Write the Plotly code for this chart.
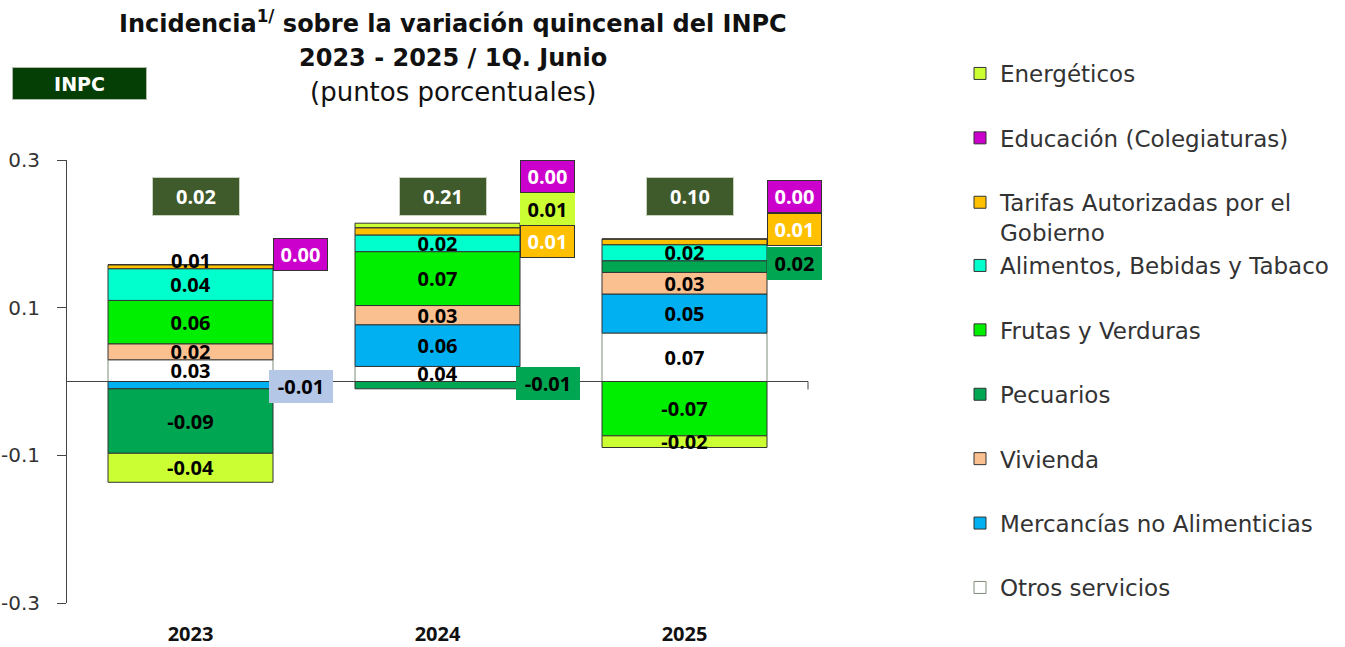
import plotly.graph_objects as go

# ---------------- data ----------------
years = ["2023", "2024", "2025"]
totals = ["0.02", "0.21", "0.10"]

series_names = [
    "Otros servicios",
    "Mercancías no Alimenticias",
    "Vivienda",
    "Pecuarios",
    "Frutas y Verduras",
    "Alimentos, Bebidas y Tabaco",
    "Tarifas Autorizadas por el<br>Gobierno",
    "Educación (Colegiaturas)",
    "Energéticos",
]

otros = [0.0294, 0.0204, 0.0656]
mercancias = [-0.0099, 0.0565, 0.0529]
vivienda = [0.0217, 0.0260, 0.0293]
pecuarios = [-0.0873, -0.0099, 0.0158]
frutas = [0.0587, 0.0730, -0.0736]
alimentos = [0.0430, 0.0226, 0.0217]
tarifas = [0.0054, 0.0099, 0.0077]
educacion = [0.0, 0.0, 0.0]
energeticos = [-0.0393, 0.0060, -0.0158]

# labels as printed on the chart
otros_lbl = ["0.03", "0.04", "0.07"]
mercancias_lbl = ["-0.01", "0.06", "0.05"]
vivienda_lbl = ["0.02", "0.03", "0.03"]
pecuarios_lbl = ["-0.09", "-0.01", "0.02"]
frutas_lbl = ["0.06", "0.07", "-0.07"]
alimentos_lbl = ["0.04", "0.02", "0.02"]
tarifas_lbl = ["0.01", "0.01", "0.01"]
educacion_lbl = ["0.00", "0.00", "0.00"]
energeticos_lbl = ["-0.04", "0.01", "-0.02"]

# ---------------- style ----------------
W, H = 1345, 647
ML, MT = 67, 160
PLOT_R, PLOT_B = 808, 603
MR = W - PLOT_R
MB = H - PLOT_B
PW = W - ML - MR
PH = H - MT - MB

colors = ["#FFFFFF", "#00B0F0", "#FAC090", "#00A651", "#00EE00",
          "#00FFCC", "#FFC000", "#CC00CC", "#CCFF33"]
line_colors = ["#7F8C78"] + ["#333333"] * 8
values = [otros, mercancias, vivienda, pecuarios, frutas, alimentos,
          tarifas, educacion, energeticos]
labels = [otros_lbl, mercancias_lbl, vivienda_lbl, pecuarios_lbl, frutas_lbl,
          alimentos_lbl, tarifas_lbl, educacion_lbl, energeticos_lbl]

# labels in boxes beside the bar: (series idx, year idx, yshift px, bg, font colour, border, at_zero)
side = [
    (7, 0, 10, "#CC00CC", "white", "#333333", False),
    (1, 0, -5, "#B4C7E7", "black", "#B4C7E7", True),
    (7, 1, 47, "#CC00CC", "white", "#333333", False),
    (8, 1, 14, "#CCFF33", "black", "#CCFF33", False),
    (6, 1, -18.5, "#FFC000", "white", "#333333", False),
    (3, 1, -2, "#00A651", "black", "#00A651", True),
    (7, 2, 42.5, "#CC00CC", "white", "#333333", False),
    (6, 2, 9.5, "#FFC000", "white", "#333333", False),
    (3, 2, -24, "#00A651", "black", "#00A651", False),
]
# labels written just over the top of the stack (series idx, year idx, yshift px)
above = [(6, 0, 4)]
skip_keys = {(s, y) for s, y, *_ in side} | {(s, y) for s, y, _ in above}

BOLD = "Open Sans"
REG = "DejaVu Sans"


def px_x(p):
    return (p - ML) / PW


def px_y(p):
    return (PLOT_B - p) / PH


fig = go.Figure()
for i, (name, vals, lbls) in enumerate(zip(series_names, values, labels)):
    txt = ["" if (i, j) in skip_keys else lbls[j] for j in range(len(years))]
    legend = "legend" if i >= 6 else "legend2"
    fig.add_trace(go.Bar(
        x=years, y=vals, name=name, text=txt,
        textposition="inside", insidetextanchor="middle", constraintext="none",
        textfont=dict(family=BOLD, size=20, color="black", weight="bold"),
        marker=dict(color=colors[i], line=dict(color=line_colors[i], width=1)),
        width=0.668, legend=legend, legendgroup=name, legendrank=100 - i,
        hoverinfo="skip",
    ))

annotations = []
# totals
for j, yr in enumerate(years):
    annotations.append(dict(
        x=j, y=0.25, xref="x", yref="y", text=totals[j], showarrow=False,
        xshift=5, font=dict(family=BOLD, size=20, color="white", weight="bold"),
        bgcolor="#3F5A2B", bordercolor="#C9D2C0", borderwidth=1,
        width=80, height=31, borderpad=3,
    ))

pos_tops = [sum(v[j] for v in values if v[j] > 0) for j in range(len(years))]

# side boxes
for s, j, ysh, bg, fc, bc, at_zero in side:
    wide = labels[s][j].startswith("-")
    annotations.append(dict(
        x=j, y=0 if at_zero else pos_tops[j], xref="x", yref="y",
        text=labels[s][j], showarrow=False, xanchor="left", yanchor="middle",
        xshift=78 if wide else 82, yshift=ysh,
        font=dict(family=BOLD, size=20, color=fc, weight="bold"),
        bgcolor=bg, bordercolor=bc, borderwidth=1,
        width=56 if wide else 47, height=25, borderpad=3,
    ))

# labels over the stack top
for s, j, ysh in above:
    annotations.append(dict(
        x=j, y=pos_tops[j], xref="x", yref="y", text=labels[s][j],
        showarrow=False, xanchor="center", yanchor="middle", yshift=ysh,
        font=dict(family=BOLD, size=20, color="black", weight="bold"),
    ))

# title lines
title_lines = [
    ("Incidencia<sup>1/</sup> sobre la variación quincenal del INPC", 22, "bold", 24),
    ("2023 - 2025 / 1Q. Junio", 58, "bold", 24),
    ("(puntos porcentuales)", 92, "normal", 26),
]
for t, py, wt, sz in title_lines:
    annotations.append(dict(
        x=px_x(453), y=px_y(py), xref="paper", yref="paper", text=t,
        showarrow=False, xanchor="center", yanchor="middle",
        font=dict(family=REG, size=sz, color="#111111", weight=wt),
    ))

# INPC box
annotations.append(dict(
    x=px_x(79.5), y=px_y(83.5), xref="paper", yref="paper", text="INPC",
    showarrow=False, xanchor="center", yanchor="middle",
    font=dict(family=REG, size=19, color="white", weight="bold"),
    bgcolor="#063F06", bordercolor="#B0B8AA", borderwidth=1,
    width=127, height=25, borderpad=3,
))

leg_common = dict(
    xanchor="left", yanchor="top", traceorder="grouped", tracegroupgap=31.5,
    valign="top", font=dict(family=REG, size=23, color="#333333"),
    bgcolor="rgba(0,0,0,0)",
)

fig.update_layout(
    width=W, height=H,
    margin=dict(l=ML, r=MR, t=MT, b=MB, autoexpand=False),
    barmode="relative",
    paper_bgcolor="white", plot_bgcolor="white",
    showlegend=True,
    legend=dict(x=px_x(960), y=px_y(52), **leg_common),
    legend2=dict(x=px_x(960), y=px_y(244), **leg_common),
    xaxis=dict(
        type="category", range=[-0.5, 2.5], showline=False, showgrid=False, ticks="",
        tickfont=dict(family=BOLD, size=20, color="#111111", weight="bold"),
        ticklabelstandoff=17,
    ),
    yaxis=dict(
        range=[-0.3, 0.3], tickvals=[-0.3, -0.1, 0.1, 0.3],
        ticktext=["-0.3", "-0.1", "0.1", "0.3"],
        showgrid=False, showline=True, linecolor="#444444", linewidth=1,
        ticks="outside", ticklen=9, tickcolor="#444444",
        zeroline=True, zerolinecolor="#444444", zerolinewidth=1,
        tickfont=dict(family=REG, size=20, color="#333333"),
        ticklabelstandoff=13,
    ),
    shapes=[dict(
        type="line", xref="paper", x0=1, x1=1, yref="y", ysizemode="pixel",
        yanchor=0, y0=0, y1=-8, line=dict(color="#444444", width=1),
    )],
    annotations=annotations,
    hovermode=False,
)

fig.write_html(
    "out.html",
    config={"displayModeBar": False},
    post_script="document.body.style.margin='0px';document.body.style.overflow='hidden';",
)
